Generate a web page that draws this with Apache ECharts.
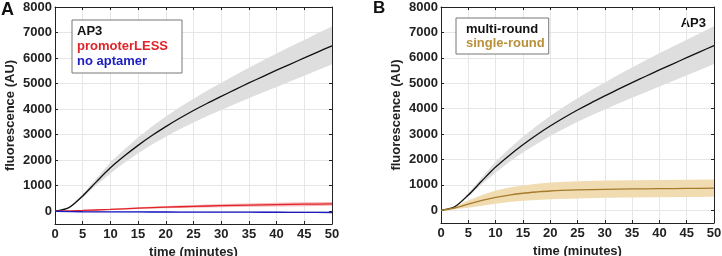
<!DOCTYPE html>
<html>
<head>
<meta charset="utf-8">
<script src="https://cdn.jsdelivr.net/npm/echarts@6/dist/echarts.min.js"></script>
<style>
  html, body { margin: 0; padding: 0; background: #fff; }
  #chart { width: 722px; height: 256px; }
</style>
</head>
<body>
<div id="chart"></div>
<script>
// time points (minutes)
const timeAP3 = [0, 2.5, 5, 7.5, 10, 12.5, 15, 17.5, 20, 22.5, 25, 27.5, 30, 32.5, 35, 37.5, 40, 42.5, 45, 47.5, 50];
const ap3Mean = [0, 140, 600, 1160, 1700, 2160, 2580, 2965, 3315, 3640, 3945, 4230, 4500, 4765, 5025, 5275, 5525, 5765, 6005, 6245, 6480];
const ap3Lower = [0, 125, 530, 1030, 1480, 1900, 2270, 2610, 2920, 3210, 3480, 3730, 3970, 4200, 4430, 4650, 4870, 5090, 5310, 5530, 5760];
const ap3Upper = [0, 155, 670, 1290, 1920, 2420, 2890, 3320, 3710, 4070, 4410, 4730, 5030, 5330, 5620, 5900, 6180, 6450, 6710, 6980, 7240];

const timeCtrl = [0, 5, 10, 15, 20, 25, 30, 35, 40, 45, 50];
const promoterLessMean = [0, 30, 70, 120, 160, 190, 220, 240, 260, 275, 290];
const promoterLessLower = [0, 15, 45, 85, 115, 140, 160, 175, 190, 200, 215];
const promoterLessUpper = [0, 45, 95, 155, 205, 240, 280, 305, 330, 350, 365];
const noAptamerMean = [0, -20, -25, -28, -30, -32, -35, -38, -40, -45, -50];
const noAptamerLower = [0, -30, -40, -45, -48, -52, -55, -58, -62, -66, -72];
const noAptamerUpper = [0, -10, -12, -12, -13, -14, -16, -18, -20, -24, -28];

const timeSingle = [0, 2.5, 5, 7.5, 10, 12.5, 15, 17.5, 20, 25, 30, 35, 40, 45, 50];
const singleRoundMean = [0, 90, 240, 390, 510, 600, 670, 720, 760, 800, 825, 840, 850, 860, 870];
const singleRoundLower = [0, 40, 100, 180, 260, 330, 380, 410, 430, 460, 490, 500, 510, 520, 530];
const singleRoundUpper = [0, 150, 390, 600, 780, 900, 980, 1040, 1090, 1140, 1170, 1180, 1190, 1200, 1210];

const xTicks = [0, 5, 10, 15, 20, 25, 30, 35, 40, 45, 50];
const yTicks = [0, 1000, 2000, 3000, 4000, 5000, 6000, 7000, 8000];

const FONT = "Liberation Sans";
const TXT = "#222";

function pairs(t, v) {
  return t.map((x, i) => [x, v[i]]);
}

// shaded band drawn as one polygon through the axis scales
function band(name, t, lo, hi, color, xi, yi) {
  return {
    name: name,
    type: "custom",
    xAxisIndex: xi,
    yAxisIndex: yi,
    silent: true,
    clip: true,
    z: 1,
    data: t.map((x, i) => [x, lo[i], hi[i]]),
    encode: { x: 0, y: [1, 2] },
    renderItem: function (params, api) {
      if (params.dataIndex !== 0) return null;
      let pts = [];
      for (let i = 0; i < t.length; i++) pts.push(api.coord([t[i], hi[i]]));
      for (let i = t.length - 1; i >= 0; i--) pts.push(api.coord([t[i], lo[i]]));
      return {
        type: "polygon",
        shape: { points: pts },
        style: { fill: color, stroke: null },
      };
    },
  };
}

function line(name, t, v, color, width, xi, yi) {
  return {
    name: name,
    type: "line",
    xAxisIndex: xi,
    yAxisIndex: yi,
    smooth: 0.3,
    symbol: "none",
    lineStyle: { color: color, width: width },
    itemStyle: { color: color },
    data: pairs(t, v),
    z: 3,
  };
}

// bottom x axis / left y axis with labels, plus mirrored tick-only axes (box look)
function xAxisMain(gi) {
  return {
    type: "value",
    gridIndex: gi,
    min: 0,
    max: 50,
    name: "time (minutes)",
    nameLocation: "middle",
    nameGap: 19,
    nameTextStyle: { color: TXT, fontFamily: FONT, fontWeight: "bold", fontSize: 13 },
    axisLine: { show: true, onZero: false, lineStyle: { color: "#222", width: 1 } },
    axisTick: { show: true, inside: true, length: 3, customValues: xTicks, lineStyle: { color: "#222" } },
    axisLabel: {
      customValues: xTicks,
      margin: 4,
      color: TXT,
      fontFamily: FONT,
      fontWeight: "bold",
      fontSize: 13,
      formatter: (v) => String(v),
    },
    splitLine: { show: true, lineStyle: { color: "#e6e6e6", width: 1 } },
  };
}
function xAxisTop(gi) {
  return {
    type: "value",
    gridIndex: gi,
    position: "top",
    min: 0,
    max: 50,
    axisLine: { show: true, onZero: false, lineStyle: { color: "#222", width: 1 } },
    axisTick: { show: true, inside: true, length: 3, customValues: xTicks, lineStyle: { color: "#222" } },
    axisLabel: { show: false },
    splitLine: { show: false },
  };
}
function yAxisMain(gi) {
  return {
    type: "value",
    gridIndex: gi,
    min: -500,
    max: 8000,
    name: "fluorescence (AU)",
    nameLocation: "middle",
    nameGap: 38,
    nameTextStyle: { color: TXT, fontFamily: FONT, fontWeight: "bold", fontSize: 13 },
    axisLine: { show: true, onZero: false, lineStyle: { color: "#222", width: 1 } },
    axisTick: { show: true, inside: true, length: 3, customValues: yTicks, lineStyle: { color: "#222" } },
    axisLabel: {
      customValues: yTicks,
      margin: 3,
      color: TXT,
      fontFamily: FONT,
      fontWeight: "bold",
      fontSize: 13,
      formatter: (v) => String(v),
    },
    splitLine: { show: true, lineStyle: { color: "#e6e6e6", width: 1 } },
  };
}
function yAxisRight(gi) {
  return {
    type: "value",
    gridIndex: gi,
    position: "right",
    min: -500,
    max: 8000,
    axisLine: { show: true, onZero: false, lineStyle: { color: "#222", width: 1 } },
    axisTick: { show: true, inside: true, length: 3, customValues: yTicks, lineStyle: { color: "#222" } },
    axisLabel: { show: false },
    splitLine: { show: false },
  };
}

var myChart = echarts.init(document.getElementById("chart"));

let option = {
  animation: false,
  backgroundColor: "#fff",
  textStyle: { fontFamily: FONT },
  grid: [
    { left: 55, top: 7, width: 277, height: 217, outerBoundsMode: "none" },
    { left: 441, top: 7, width: 273, height: 216, outerBoundsMode: "none" },
  ],
  xAxis: [xAxisMain(0), xAxisMain(1), xAxisTop(0), xAxisTop(1)],
  yAxis: [yAxisMain(0), yAxisMain(1), yAxisRight(0), yAxisRight(1)],
  legend: [
    {
      left: 72,
      top: 20,
      orient: "vertical",
      selectedMode: false,
      icon: "rect",
      itemWidth: 0,
      itemHeight: 0,
      itemGap: 0,
      padding: [4, 14, 4, 0],
      borderColor: "#777",
      borderWidth: 1,
      backgroundColor: "#fff",
      textStyle: { fontFamily: FONT, fontWeight: "bold", fontSize: 13, lineHeight: 15 },
      data: [
        { name: "AP3", textStyle: { color: "#111" } },
        { name: "promoterLESS", textStyle: { color: "#e0242a" } },
        { name: "no aptamer", textStyle: { color: "#1c1cc0" } },
      ],
    },
    {
      left: 456,
      top: 18,
      orient: "vertical",
      selectedMode: false,
      icon: "rect",
      itemWidth: 0,
      itemHeight: 0,
      itemGap: 0,
      padding: [4, 4, 4, 5],
      borderColor: "#777",
      borderWidth: 1,
      backgroundColor: "#fff",
      textStyle: { fontFamily: FONT, fontWeight: "bold", fontSize: 13, lineHeight: 14 },
      data: [
        { name: "multi-round", textStyle: { color: "#111" } },
        { name: "single-round", textStyle: { color: "#b8913a" } },
      ],
    },
  ],
  graphic: [
    { type: "text", left: 1, top: 1, style: { text: "A", fontFamily: FONT, fontWeight: "bold", fontSize: 18, fill: "#111" } },
    { type: "text", left: 373, top: 0, style: { text: "B", fontFamily: FONT, fontWeight: "bold", fontSize: 17, fill: "#111" } },
    { type: "text", right: 16, top: 17, style: { text: "AP3", fontFamily: FONT, fontWeight: "bold", fontSize: 13, fill: "#111" } },
  ],
  series: [
    // panel A
    band("bandA", timeAP3, ap3Lower, ap3Upper, "#dedede", 0, 0),
    band("bandRed", timeCtrl, promoterLessLower, promoterLessUpper, "#f7b8b8", 0, 0),
    band("bandBlue", timeCtrl, noAptamerLower, noAptamerUpper, "#b8b8f0", 0, 0),
    line("AP3", timeAP3, ap3Mean, "#111", 1.3, 0, 0),
    line("promoterLESS", timeCtrl, promoterLessMean, "#e0242a", 1.3, 0, 0),
    line("no aptamer", timeCtrl, noAptamerMean, "#1c1cc0", 1.3, 0, 0),
    // panel B
    band("bandB", timeAP3, ap3Lower, ap3Upper, "#dedede", 1, 1),
    band("bandGold", timeSingle, singleRoundLower, singleRoundUpper, "#f1dcb2", 1, 1),
    line("multi-round", timeAP3, ap3Mean, "#111", 1.3, 1, 1),
    line("single-round", timeSingle, singleRoundMean, "#a57b2c", 1.3, 1, 1),
  ],
};

myChart.setOption(option);
</script>
</body>
</html>
